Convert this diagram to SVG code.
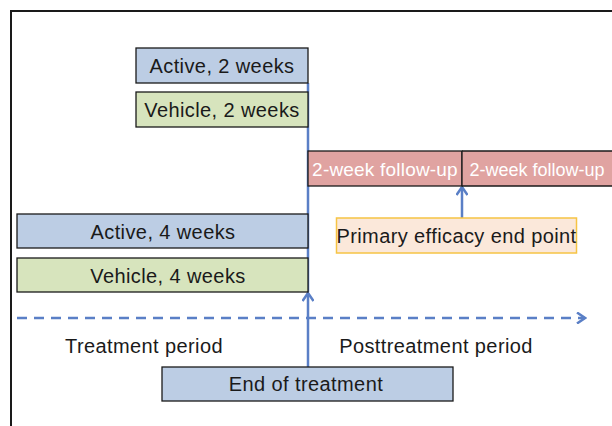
<svg xmlns="http://www.w3.org/2000/svg" width="612" height="426" viewBox="0 0 612 426">
<defs>
<style>
.box{stroke:#1a1a1a;stroke-width:1.3}
.blue{fill:#bccde4}
.green{fill:#d7e4bd}
.pink{fill:#e0a3a1}
.t{font-family:"Liberation Sans",Arial,sans-serif;font-size:20px;fill:#1a1a1a;text-anchor:middle;letter-spacing:0.4px}
.w{fill:#ffffff}
.ln{stroke:#5a7fc6;stroke-width:2.5;fill:none}
</style>
<marker id="ah" markerWidth="12" markerHeight="12" viewBox="0 0 12 12" refX="10" refY="6" orient="auto" markerUnits="userSpaceOnUse">
<path d="M2,0.5 L10,6 L2,11.5" fill="none" stroke="#5a7fc6" stroke-width="2.5"/>
</marker>
</defs>
<rect width="612" height="426" fill="#ffffff"/>
<path d="M11,426 V11 H612" fill="none" stroke="#1a1a1a" stroke-width="2"/>
<g id="connectors">
<line class="ln" x1="308" y1="83" x2="308" y2="292"/>
<line class="ln" x1="308" y1="367" x2="308" y2="293" marker-end="url(#ah)"/>
<line class="ln" x1="462" y1="218" x2="462" y2="187" marker-end="url(#ah)"/>
<line class="ln" x1="17" y1="318" x2="585" y2="318" stroke-dasharray="10,7" marker-end="url(#ah)"/>
</g>
<g id="active2">
<rect class="box blue" x="136" y="48" width="172" height="35"/>
<text class="t" x="222" y="73">Active, 2 weeks</text>
</g>
<g id="vehicle2">
<rect class="box green" x="136" y="92" width="172" height="35"/>
<text class="t" x="222" y="117">Vehicle, 2 weeks</text>
</g>
<g id="followup1">
<rect class="box pink" x="308" y="151" width="154" height="35"/>
<text class="t w" x="385" y="176" style="font-size:19px;letter-spacing:0.2px">2-week follow-up</text>
</g>
<g id="followup2">
<path class="pink" d="M462,151 H612 V186 H462 Z"/>
<path d="M462,151 H612 M462,186 H612 M462,151 V186" fill="none" stroke="#1a1a1a" stroke-width="1.3"/>
<text class="t w" x="537" y="176" style="font-size:18px;letter-spacing:0px">2-week follow-up</text>
</g>
<g id="primary">
<rect x="336.5" y="218" width="240" height="35" fill="#fbe8da" stroke="#f6c444" stroke-width="1.5"/>
<text class="t" x="456.5" y="243">Primary efficacy end point</text>
</g>
<g id="active4">
<rect class="box blue" x="17" y="214" width="291" height="34"/>
<text class="t" x="163" y="239">Active, 4 weeks</text>
</g>
<g id="vehicle4">
<rect class="box green" x="17" y="258" width="291" height="34"/>
<text class="t" x="168" y="283">Vehicle, 4 weeks</text>
</g>
<g id="labels">
<text class="t" x="144" y="353">Treatment period</text>
<text class="t" x="436" y="353">Posttreatment period</text>
</g>
<g id="endtreatment">
<rect class="box blue" x="162" y="367" width="291" height="34"/>
<text class="t" x="306" y="391">End of treatment</text>
</g>
</svg>
